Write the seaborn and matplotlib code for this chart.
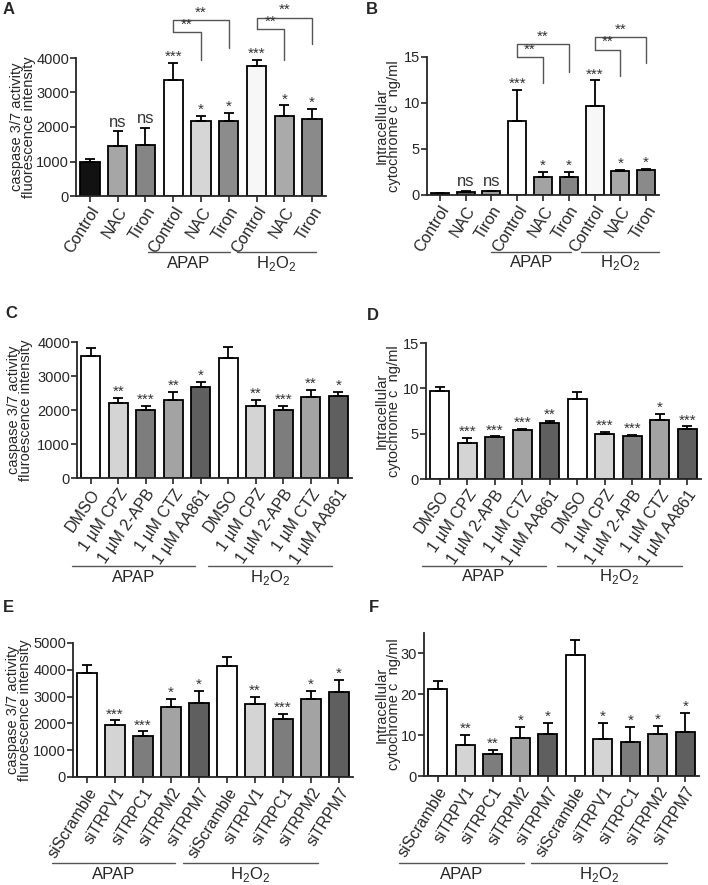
import numpy as np
import pandas as pd
import matplotlib.pyplot as plt
import seaborn as sns

sns.set_style("ticks")
plt.rcParams['font.family'] = ['Liberation Sans', 'DejaVu Sans']
plt.rcParams['mathtext.fontset'] = 'custom'
plt.rcParams['mathtext.rm'] = 'Liberation Sans'

# ---- data ----
ab_labels = ['Control', 'NAC', 'Tiron', 'Control', 'NAC', 'Tiron', 'Control', 'NAC', 'Tiron']
a_vals = [1000, 1460, 1490, 3360, 2170, 2180, 3760, 2320, 2230]
a_tops = [1065, 1870, 1985, 3850, 2330, 2400, 3950, 2625, 2530]
a_sig = ['', 'ns', 'ns', '***', '*', '*', '***', '*', '*']
a_colors = ['#121212', '#a6a6a6', '#858585', '#ffffff', '#d6d6d6', '#8c8c8c', '#f7f7f7', '#aaaaaa', '#8a8a8a']

b_vals = [0.2, 0.35, 0.4, 8.0, 1.96, 1.96, 9.64, 2.6, 2.75]
b_tops = [0.25, 0.45, 0.45, 11.4, 2.5, 2.5, 12.46, 2.75, 2.86]
b_sig = ['', 'ns', 'ns', '***', '*', '*', '***', '*', '*']
b_colors = ['#3a3a3a', '#5a5a5a', '#9a9a9a', '#ffffff', '#a3a3a3', '#858585', '#f7f7f7', '#a8a8a8', '#8a8a8a']

cd_labels = ['DMSO', '1 µM CPZ', '1 µM 2-APB', '1 µM CTZ', '1 µM AA861'] * 2
c_vals = [3600, 2200, 2000, 2300, 2690, 3540, 2130, 2010, 2380, 2420]
c_tops = [3830, 2360, 2130, 2520, 2820, 3850, 2290, 2130, 2590, 2530]
c_sig = ['', '**', '***', '**', '*', '', '**', '***', '**', '*']

d_vals = [9.67, 3.95, 4.58, 5.35, 6.16, 8.82, 4.94, 4.69, 6.46, 5.53]
d_tops = [10.1, 4.5, 4.7, 5.5, 6.45, 9.56, 5.2, 4.83, 7.2, 5.8]
d_sig = ['', '***', '***', '***', '**', '', '***', '***', '*', '***']

ef_labels = ['siScramble', 'siTRPV1', 'siTRPC1', 'siTRPM2', 'siTRPM7'] * 2
e_vals = [3880, 1930, 1530, 2610, 2770, 4150, 2740, 2180, 2920, 3170]
e_tops = [4170, 2110, 1700, 2900, 3210, 4480, 2990, 2360, 3210, 3610]
e_sig = ['', '***', '***', '*', '*', '', '**', '***', '*', '*']

f_vals = [21.3, 7.56, 5.5, 9.4, 10.2, 29.5, 8.96, 8.4, 10.3, 10.7]
f_tops = [23.3, 10.0, 6.3, 12.1, 12.9, 33.4, 12.9, 12.1, 12.2, 15.5]
f_sig = ['', '**', '**', '*', '*', '', '*', '*', '*', '*']

cdef_colors = ['#ffffff', '#d4d4d4', '#7d7d7d', '#a3a3a3', '#5f5f5f'] * 2

casp_label = 'caspase 3/7 activity\nfluorescence intensity'
casp_label2 = 'caspase 3/7 activity\nfluroescence intensity'
cyt_label = 'Intracellular\ncytochrome c  ng/ml'

W, H = 708, 885
fig = plt.figure(figsize=(W / 100, H / 100), dpi=100)


def add_ax(l, r, t, b):
    return fig.add_axes([l / W, 1 - b / H, (r - l) / W, (b - t) / H])


def stars(ax, text, x, y, dy=2):
    ax.annotate(text, (x, y), xytext=(0, dy), textcoords='offset points',
                ha='center', va='baseline', fontsize=11, color='#333333',
                annotation_clip=False)


def bar_panel(ax, labels, vals, tops, colors, sig, ylim, yticks, ylabel, ylab_x, rot=58):
    n = len(vals)
    pos = np.arange(n)
    df = pd.DataFrame({'pos': pos, 'val': vals})
    sns.barplot(data=df, x='pos', y='val', hue='pos', native_scale=True,
                palette=dict(zip(pos, colors)), width=0.7, edgecolor='black',
                linewidth=1.3, legend=False, ax=ax)
    err = np.array(tops) - np.array(vals)
    ax.errorbar(pos, vals, yerr=[np.zeros(n), err], fmt='none', ecolor='black',
                elinewidth=1.3, capsize=3.5, capthick=1.3, zorder=3)
    ax.set_xlim(-0.5, n - 0.5)
    ax.set_ylim(*ylim)
    ax.set_yticks(yticks)
    ax.set_xticks(pos)
    ax.set_xticklabels(labels, rotation=rot, ha='right', rotation_mode='anchor', fontsize=11.5)
    ax.tick_params(axis='y', labelsize=10.5, length=4, width=1.2, pad=1)
    ax.tick_params(axis='x', length=4, width=1.2, pad=2)
    ax.set_xlabel('')
    ax.set_ylabel(ylabel, fontsize=10.5, linespacing=0.85)
    ax.yaxis.set_label_coords(ylab_x, 0.5)
    for s in ['left', 'bottom']:
        ax.spines[s].set_linewidth(1.3)
    sns.despine(ax=ax)
    for i, s in enumerate(sig):
        if not s:
            continue
        if s == 'ns':
            ax.annotate(s, (i, tops[i]), xytext=(0, 1), textcoords='offset points',
                        ha='center', va='bottom', fontsize=12, color='#333333',
                        annotation_clip=False)
        else:
            stars(ax, s, i, tops[i], 1.5)


def groups(ax, spans, yline, ytext):
    tr = ax.get_xaxis_transform()
    for (x0, x1), name in zip(spans, ['APAP', 'H$_2$O$_2$']):
        ax.plot([x0, x1], [yline, yline], color='#555555', lw=1, transform=tr, clip_on=False)
        ax.text((x0 + x1) / 2, ytext, name, transform=tr, ha='center', va='center', fontsize=12)


def bracket(ax, x0, x_small, x_big, y_small, y_big, end_small, end_big):
    kw = dict(color='#555555', lw=1, clip_on=False)
    ax.plot([x0, x0, x_big, x_big], [y_small, y_big, y_big, end_big], **kw)
    ax.plot([x0, x_small, x_small], [y_small, y_small, end_small], **kw)
    stars(ax, '**', (x0 + x_small) / 2, y_small, 2.5)
    stars(ax, '**', (x0 + x_big) / 2, y_big, 2.5)


# A
axA = add_ax(76, 326, 58, 196)
bar_panel(axA, ab_labels, a_vals, a_tops, a_colors, a_sig, (0, 4000), [0, 1000, 2000, 3000, 4000],
          casp_label, -0.16)
groups(axA, [(2.09, 5.04), (5.29, 8.13)], -0.406, -0.49)
bracket(axA, 3, 4, 5, 4740, 5090, 3950, 4300)
bracket(axA, 6, 7, 8, 4830, 5170, 3950, 4400)

# B
axB = add_ax(427, 659, 57, 195)
bar_panel(axB, ab_labels, b_vals, b_tops, b_colors, b_sig, (0, 15), [0, 5, 10, 15], cyt_label, -0.112)
groups(axB, [(1.98, 5.1), (5.47, 8.49)], -0.413, -0.49)
bracket(axB, 3, 4, 5, 15.0, 16.4, 12.2, 13.4)
bracket(axB, 6, 7, 8, 15.8, 17.2, 12.9, 14.3)

# C
axC = add_ax(77, 352, 342, 478)
bar_panel(axC, cd_labels, c_vals, c_tops, cdef_colors, c_sig, (0, 4000), [0, 1000, 2000, 3000, 4000],
          casp_label2, -0.16, rot=55)
groups(axC, [(-0.68, 3.79), (4.26, 8.77)], -0.647, -0.728)

# D
axD = add_ax(426, 701, 343, 479)
bar_panel(axD, cd_labels, d_vals, d_tops, cdef_colors, d_sig, (0, 15), [0, 5, 10, 15], cyt_label,
          -0.091, rot=55)
groups(axD, [(-0.65, 3.86), (4.26, 8.81)], -0.64, -0.72)

# E
axE = add_ax(73, 353, 643, 777)
bar_panel(axE, ef_labels, e_vals, e_tops, cdef_colors, e_sig, (0, 5000), [0, 1000, 2000, 3000, 4000, 5000],
          casp_label2, -0.145)
groups(axE, [(-1.25, 3.14), (3.43, 8.25)], -0.642, -0.731)

# F
axF = add_ax(424, 699, 633, 776)
bar_panel(axF, ef_labels, f_vals, f_tops, cdef_colors, f_sig, (0, 35), [0, 10, 20, 30], cyt_label, -0.084)
groups(axF, [(-1.41, 3.14), (3.39, 8.34)], -0.608, -0.692)

for lab, (x, y) in zip('ABCDEF', [(3, 9), (366, 10), (5, 313), (367, 315), (3, 607), (369, 607)]):
    fig.text(x / W, 1 - y / H, lab, fontsize=12, fontweight='bold', ha='left', va='center')

fig.savefig('out.png', dpi=100)
